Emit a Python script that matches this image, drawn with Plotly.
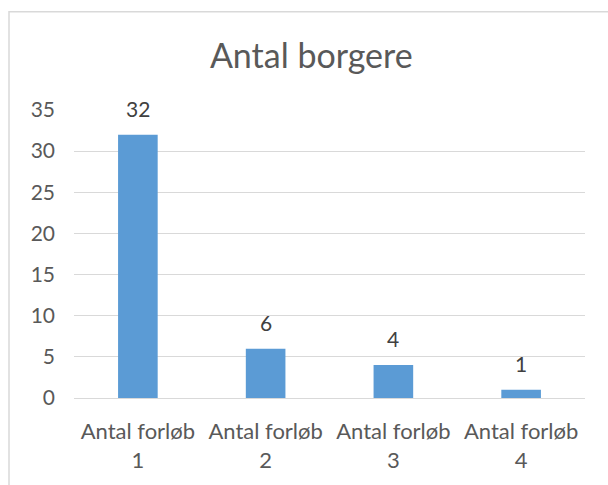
import plotly.graph_objects as go

categories = ["Antal forløb<br>1", "Antal forløb<br>2", "Antal forløb<br>3", "Antal forløb<br>4"]
values = [32, 6, 4, 1]
y_ticks = [0, 5, 10, 15, 20, 25, 30, 35]

FONT = "Lato"
GREY = "#595959"

fig = go.Figure(
    go.Bar(
        x=categories,
        y=values,
        marker=dict(color="#5b9bd5", line=dict(width=0)),
        cliponaxis=False,
        hoverinfo="x+y",
    )
)

# data labels placed above each bar, as in the reference
for c, v in zip(categories, values):
    fig.add_annotation(
        x=c, y=v, xref="x", yref="y",
        text=str(v), showarrow=False,
        yanchor="bottom", yshift=12,
        font=dict(family=FONT, size=21, color="#404040"),
    )

fig.update_layout(
    width=608,
    height=485,
    margin=dict(l=74, r=23, t=110, b=85),
    paper_bgcolor="white",
    plot_bgcolor="white",
    bargap=0.69,
    showlegend=False,
    title=dict(
        text="Antal borgere",
        x=0.512,
        xanchor="center",
        y=0.885,
        yanchor="middle",
        font=dict(family=FONT, size=34, color=GREY),
    ),
    font=dict(family=FONT, color=GREY),
)

fig.update_xaxes(
    showgrid=False,
    showline=False,
    ticks="",
    ticklabelstandoff=18,
    tickfont=dict(family=FONT, size=22, color=GREY),
)
fig.update_yaxes(
    range=[0, 35],
    tickvals=y_ticks,
    showgrid=True,
    gridcolor="#d9d9d9",
    gridwidth=1,
    zeroline=True,
    zerolinecolor="#d9d9d9",
    zerolinewidth=1,
    showline=False,
    ticks="",
    ticklabelstandoff=18,
    tickfont=dict(family=FONT, size=21, color=GREY),
)

# light chart border (partially outside the photographed area, as in the reference)
fig.add_shape(
    type="rect",
    xref="paper", yref="paper",
    x0=(9 - 74) / 511, x1=(620 - 74) / 511,
    y0=(400 - 500) / 290, y1=(400 - 11) / 290,
    line=dict(color="#d9d9d9", width=1.5),
    fillcolor="rgba(0,0,0,0)",
    layer="below",
)

fig.write_html(
    "out.html",
    config={"displayModeBar": False},
    post_script="document.body.style.margin='0';",
)
